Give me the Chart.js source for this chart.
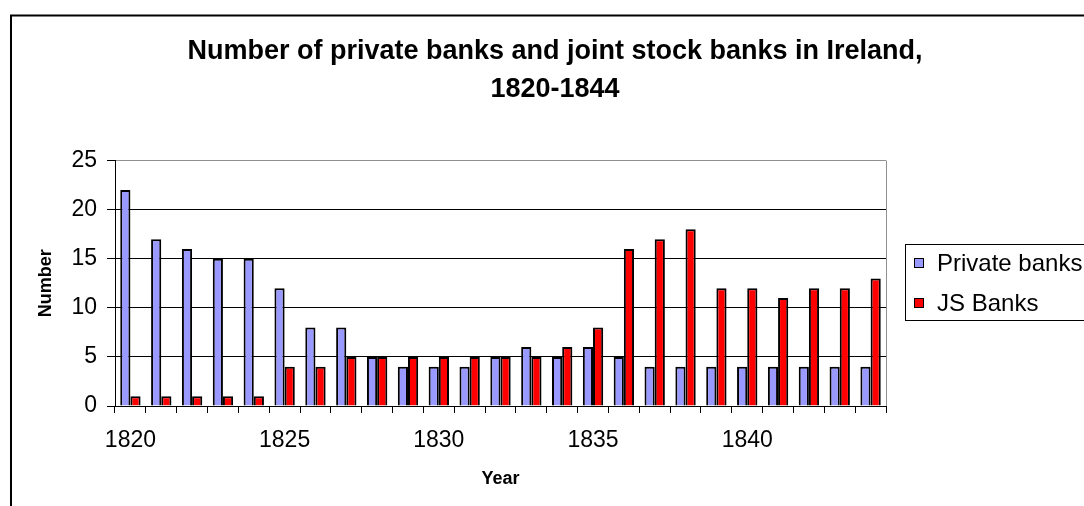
<!DOCTYPE html>
<html><head><meta charset="utf-8">
<script src="https://cdn.jsdelivr.net/npm/chart.js@4.4.1/dist/chart.umd.min.js"></script>
<style>html,body{margin:0;padding:0;overflow:hidden;background:#fff;width:1084px;height:506px}canvas{display:block}</style>
</head><body>
<canvas id="c" width="1110" height="520"></canvas>
<script>
const years = ['1820','1821','1822','1823','1824','1825','1826','1827','1828','1829','1830','1831','1832','1833','1834','1835','1836','1837','1838','1839','1840','1841','1842','1843','1844'];
const privateBanks = [22,17,16,15,15,12,8,8,5,4,4,4,5,6,5,6,5,4,4,4,4,4,4,4,4];
const jsBanks = [1,1,1,1,1,4,4,5,5,5,5,5,5,5,6,8,16,17,18,12,12,11,12,12,13];
const xTickLabels = ['1820','1825','1830','1835','1840'];
const yTickValues = [0,5,10,15,20,25];
const seriesNames = ['Private banks','JS Banks'];
const seriesColors = ['#9999FF','#FF0000'];
const titleLines = ['Number of private banks and joint stock banks in Ireland,','1820-1844'];
const xTitle = 'Year';
const yTitle = 'Number';

const FONT = '"Liberation Sans", Arial, sans-serif';

const frame = {
  id: 'frame',
  beforeDraw(chart) {
    const ctx = chart.ctx;
    ctx.save();
    ctx.fillStyle = '#fff';
    ctx.fillRect(0, 0, chart.width, chart.height);
    ctx.strokeStyle = '#000';
    ctx.lineWidth = 2;
    ctx.beginPath();
    ctx.moveTo(11, chart.height + 5);
    ctx.lineTo(11, 15.5);
    ctx.lineTo(chart.width + 5, 15.5);
    ctx.stroke();
    ctx.restore();
  },
  afterDraw(chart) {
    const ctx = chart.ctx;
    const a = chart.chartArea;
    ctx.save();
    ctx.strokeStyle = '#909090';
    ctx.lineWidth = 1;
    ctx.beginPath();
    ctx.moveTo(Math.round(a.right) + 0.5, a.top);
    ctx.lineTo(Math.round(a.right) + 0.5, a.bottom);
    ctx.stroke();
    const lx = 905.5, ly = 244.5, lw = 220, lh = 76;
    ctx.strokeStyle = '#000';
    ctx.strokeRect(lx, ly, lw, lh);
    ctx.font = '24px ' + FONT;
    ctx.textBaseline = 'middle';
    ctx.textAlign = 'left';
    const rows = [263, 303];
    chart.data.datasets.forEach((ds, i) => {
      const cy = rows[i];
      ctx.fillStyle = ds.backgroundColor;
      ctx.fillRect(914, cy - 5, 10, 10);
      ctx.strokeStyle = '#000';
      ctx.strokeRect(914.5, cy - 4.5, 9, 9);
      ctx.fillStyle = '#000';
      ctx.fillText(ds.label, 937, cy + 1);
    });
    ctx.restore();
  }
};

new Chart(document.getElementById('c'), {
  type: 'bar',
  data: {
    labels: years,
    datasets: [
      { label: seriesNames[0], data: privateBanks, backgroundColor: seriesColors[0], borderColor: '#000', borderWidth: 2 },
      { label: seriesNames[1], data: jsBanks, backgroundColor: seriesColors[1], borderColor: '#000', borderWidth: 2 }
    ]
  },
  options: {
    responsive: false,
    animation: false,
    devicePixelRatio: 1,
    layout: { padding: 0 },
    datasets: { bar: { categoryPercentage: 0.66, barPercentage: 1.0 } },
    plugins: {
      legend: { display: false },
      tooltip: { enabled: false },
      title: {
        display: true,
        text: titleLines,
        color: '#000',
        font: { family: FONT, size: 27, weight: 'bold', lineHeight: 1.4 },
        padding: { top: 33, bottom: 52 }
      }
    },
    scales: {
      x: {
        grid: { display: true, offset: true, drawOnChartArea: false, drawTicks: true, tickLength: 7, color: '#000', tickColor: '#000' },
        border: { display: true, color: '#000', width: 1 },
        ticks: {
          autoSkip: false, maxRotation: 0, minRotation: 0, padding: 14,
          color: '#000', font: { family: FONT, size: 23 },
          callback: function (v, i) { const l = years[i]; return xTickLabels.includes(l) ? l : ''; }
        },
        title: { display: true, text: xTitle, color: '#000', font: { family: FONT, size: 18, weight: 'bold' }, padding: { top: 4, bottom: 30 } },
        afterFit(scale) { scale.height = 114; }
      },
      y: {
        min: 0, max: 25,
        afterBuildTicks(scale) { scale.ticks = yTickValues.map(v => ({ value: v })); },
        grid: {
          drawTicks: true, tickLength: 8,
          color: ctx => (ctx.tick && ctx.tick.value === 25 ? '#909090' : '#000'),
          tickColor: '#000'
        },
        border: { display: true, color: '#000', width: 1 },
        ticks: { padding: 10, color: '#000', font: { family: FONT, size: 23 } },
        title: { display: true, text: yTitle, color: '#000', font: { family: FONT, size: 18, weight: 'bold' }, padding: { top: 35, bottom: 4 } },
        afterFit(scale) { scale.width = 115; }
      },
      legendSpace: {
        type: 'linear', position: 'right', display: true,
        grid: { display: false, drawTicks: false },
        border: { display: false },
        ticks: { display: false },
        title: { display: false },
        afterFit(scale) { scale.width = 224; }
      }
    }
  },
  plugins: [frame]
});
</script>
</body></html>
